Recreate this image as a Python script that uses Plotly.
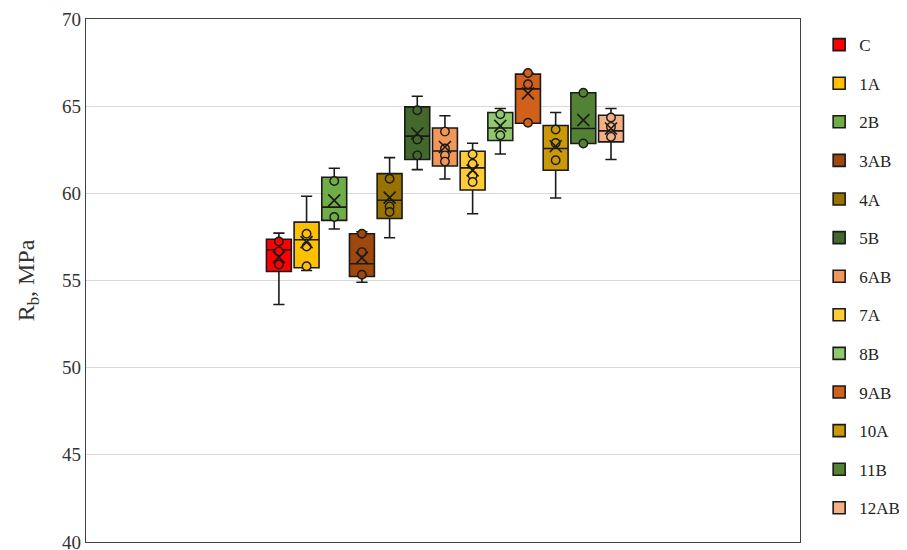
import plotly.graph_objects as go

groups = ["C", "1A", "2B", "3AB", "4A", "5B", "6AB", "7A", "8B", "9AB", "10A", "11B", "12AB"]
colors = ["#FF0000", "#FFC000", "#70AD47", "#9E480E", "#997300", "#43682B", "#F1975A",
          "#FFCD33", "#8FC96B", "#D0601A", "#C99A06", "#548235", "#F4B084"]

q1 = [55.52, 55.73, 58.45, 55.23, 58.56, 61.94, 61.57, 60.19, 63.03, 64.02, 61.32, 62.86, 62.95]
median = [56.76, 57.34, 59.21, 55.96, 59.60, 63.28, 62.43, 61.46, 63.75, 65.99, 62.57, 63.72, 63.58]
q3 = [57.37, 58.35, 60.92, 57.68, 61.13, 64.96, 63.75, 62.41, 64.64, 66.84, 63.89, 65.77, 64.48]
lower = [53.62, 55.57, 57.95, 54.90, 57.45, 61.36, 60.82, 58.83, 62.26, 64.02, 59.73, 62.86, 61.94]
upper = [57.72, 59.83, 61.44, 57.80, 62.05, 65.57, 64.45, 62.87, 64.87, 66.90, 64.64, 65.77, 64.87]
means = [56.34, 57.20, 59.60, 56.30, 59.75, 63.43, 62.66, 61.32, 63.87, 65.73, 62.70, 64.20, 63.72]
points = [
    [57.24, 56.67, 55.92],
    [57.68, 56.95, 55.82],
    [60.71, 58.64],
    [57.68, 56.63, 55.33],
    [60.84, 59.25, 58.93],
    [64.77, 63.09, 62.18],
    [63.54, 62.57, 62.18, 61.82],
    [62.24, 61.70, 61.03, 60.65],
    [64.54, 63.33],
    [66.90, 66.26, 64.05],
    [63.66, 62.89, 61.90],
    [65.77, 62.86],
    [64.35, 63.81, 63.24],
]

serif = "Liberation Serif, Times New Roman, serif"
ink = "#1a1a1a"
fig = go.Figure()

for i, g in enumerate(groups):
    fig.add_trace(go.Box(
        name=g, x=[i], q1=[q1[i]], median=[median[i]], q3=[q3[i]],
        lowerfence=[lower[i]], upperfence=[upper[i]],
        width=0.9, whiskerwidth=0.45,
        fillcolor=colors[i], line=dict(color=ink, width=1.6),
        legendgroup=g, showlegend=True, hoverinfo="skip",
    ))

for i, g in enumerate(groups):
    fig.add_trace(go.Scatter(
        x=[i] * len(points[i]), y=points[i], mode="markers",
        marker=dict(symbol="circle", size=8.5, color=colors[i],
                    line=dict(color=ink, width=1.4)),
        showlegend=False, legendgroup=g, hoverinfo="skip",
    ))
    fig.add_trace(go.Scatter(
        x=[i], y=[means[i]], mode="markers",
        marker=dict(symbol="x-thin-open", size=12, color=ink,
                    line=dict(color=ink, width=1.6)),
        showlegend=False, legendgroup=g, hoverinfo="skip",
    ))

# the page body adds an 8px offset; figure size/margins compensate for it
fig.update_layout(
    width=899, height=542,
    margin=dict(l=78, r=0, t=11, b=8),
    paper_bgcolor="white", plot_bgcolor="white",
    showlegend=True,
    legend=dict(x=0.893, xanchor="left", y=0.5076, yanchor="middle",
                font=dict(family=serif, size=17, color="#222"),
                tracegroupgap=13.5, itemwidth=30, bgcolor="rgba(0,0,0,0)"),
    xaxis=dict(domain=[0, 0.8697], range=[-6.97, 18.83], showticklabels=False,
               showgrid=False, zeroline=False, showline=True, mirror=True,
               linecolor="#404040", linewidth=1.3, ticks=""),
    yaxis=dict(range=[40, 70], dtick=5, showgrid=True, gridcolor="#D9D9D9",
               gridwidth=1.3, zeroline=False, showline=True, mirror=True,
               linecolor="#404040", linewidth=1.3, ticks="", automargin=False,
               ticklabeloverflow="allow",
               tickfont=dict(family=serif, size=19, color="#333"),
               title=dict(text="R<sub>b</sub>, MPa",
                          font=dict(family=serif, size=24, color="#333"),
                          standoff=20)),
)

fig.write_html("out.html")
